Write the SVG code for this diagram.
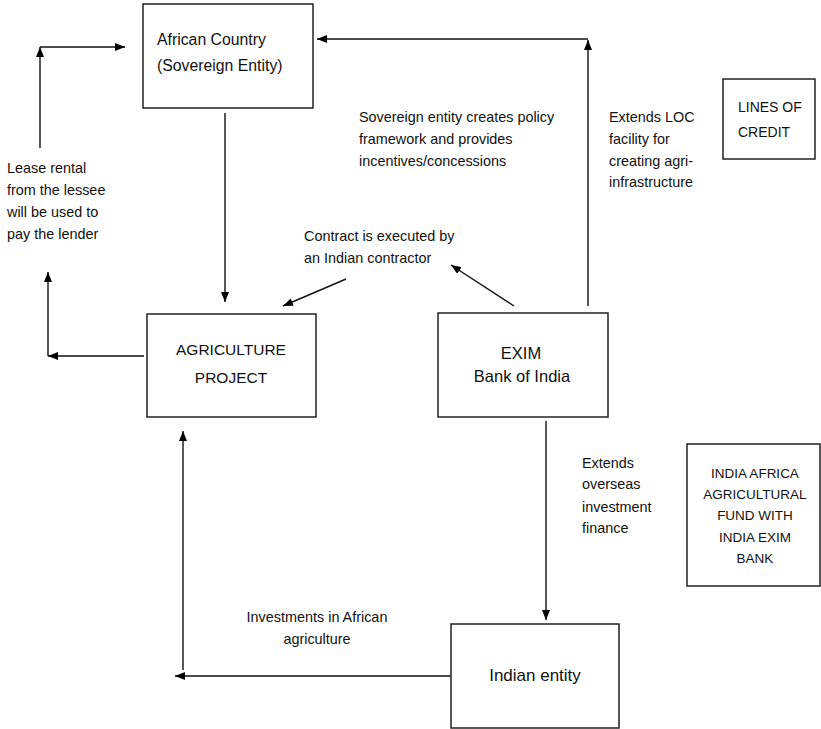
<svg xmlns="http://www.w3.org/2000/svg" width="821" height="729" viewBox="0 0 821 729">
<defs>
<marker id="ah" viewBox="0 0 10 8" refX="10" refY="4" markerWidth="10" markerHeight="8" markerUnits="userSpaceOnUse" orient="auto">
<path d="M0,0 L10,4 L0,8 Z" fill="#000"/>
</marker>
<style>
.box{fill:#fff;stroke:#222;stroke-width:1.5}
.t{font-family:"Liberation Sans",Arial,sans-serif;fill:#111}
.lbl{font-size:14.4px}
.c{text-anchor:middle}
.ln{fill:none;stroke:#111;stroke-width:1.4;marker-end:url(#ah)}
</style>
</defs>
<rect width="821" height="729" fill="#fff"/>
<g id="connectors">
<path class="ln" d="M588,306 V40"/>
<path class="ln" d="M588,39 H317"/>
<path class="ln" d="M225,113 V302"/>
<path class="ln" d="M40,148 V47"/>
<path class="ln" d="M40,47 H125"/>
<path class="ln" d="M144,356 H48"/>
<path class="ln" d="M48,356 V272"/>
<path class="ln" d="M346,279 L283,306"/>
<path class="ln" d="M514,306 L451,265"/>
<path class="ln" d="M546,421 V620"/>
<path class="ln" d="M451,676 H175"/>
<path class="ln" d="M183,670 V431"/>
</g>
<g id="african-country">
<rect class="box" x="143" y="4" width="170" height="104"/>
<text class="t" x="157" y="44.5" font-size="15.8">African Country</text>
<text class="t" x="157" y="70.5" font-size="15.8">(Sovereign Entity)</text>
</g>
<g id="agriculture-project">
<rect class="box" x="147" y="314" width="169" height="103"/>
<text class="t c" x="231" y="354.5" font-size="15.5">AGRICULTURE</text>
<text class="t c" x="231" y="382.5" font-size="15.5">PROJECT</text>
</g>
<g id="exim-bank">
<rect class="box" x="438" y="313" width="170" height="104"/>
<text class="t c" x="521" y="359" font-size="16.5">EXIM</text>
<text class="t c" x="522" y="382" font-size="16.5">Bank of India</text>
</g>
<g id="indian-entity">
<rect class="box" x="451" y="624" width="168" height="104"/>
<text class="t c" x="535" y="681" font-size="17">Indian entity</text>
</g>
<g id="lines-of-credit">
<rect class="box" x="723" y="79" width="92" height="80"/>
<text class="t" x="738" y="112" font-size="14">LINES OF</text>
<text class="t" x="738" y="137" font-size="14">CREDIT</text>
</g>
<g id="india-africa-fund">
<rect class="box" x="687" y="444" width="133" height="142"/>
<text class="t c" x="755" y="478" font-size="13.5">INDIA AFRICA</text>
<text class="t c" x="755" y="499" font-size="13.5">AGRICULTURAL</text>
<text class="t c" x="755" y="520" font-size="13.5">FUND WITH</text>
<text class="t c" x="755" y="542" font-size="13.5">INDIA EXIM</text>
<text class="t c" x="755" y="563" font-size="13.5">BANK</text>
</g>
<g id="labels">
<text class="t lbl" x="7" y="173">Lease rental</text>
<text class="t lbl" x="7" y="195">from the lessee</text>
<text class="t lbl" x="7" y="217">will be used to</text>
<text class="t lbl" x="7" y="239">pay the lender</text>
<text class="t lbl" x="359" y="122">Sovereign entity creates policy</text>
<text class="t lbl" x="359" y="143.5">framework and provides</text>
<text class="t lbl" x="359" y="166">incentives/concessions</text>
<text class="t lbl" x="304" y="241">Contract is executed by</text>
<text class="t lbl" x="304" y="263">an Indian contractor</text>
<text class="t lbl" x="609" y="122">Extends LOC</text>
<text class="t lbl" x="609" y="143.5">facility for</text>
<text class="t lbl" x="609" y="166">creating agri-</text>
<text class="t lbl" x="609" y="187">infrastructure</text>
<text class="t lbl" x="582" y="468">Extends</text>
<text class="t lbl" x="582" y="489">overseas</text>
<text class="t lbl" x="582" y="512">investment</text>
<text class="t lbl" x="582" y="533">finance</text>
<text class="t lbl c" x="317" y="622">Investments in African</text>
<text class="t lbl c" x="317" y="644">agriculture</text>
</g>
</svg>
